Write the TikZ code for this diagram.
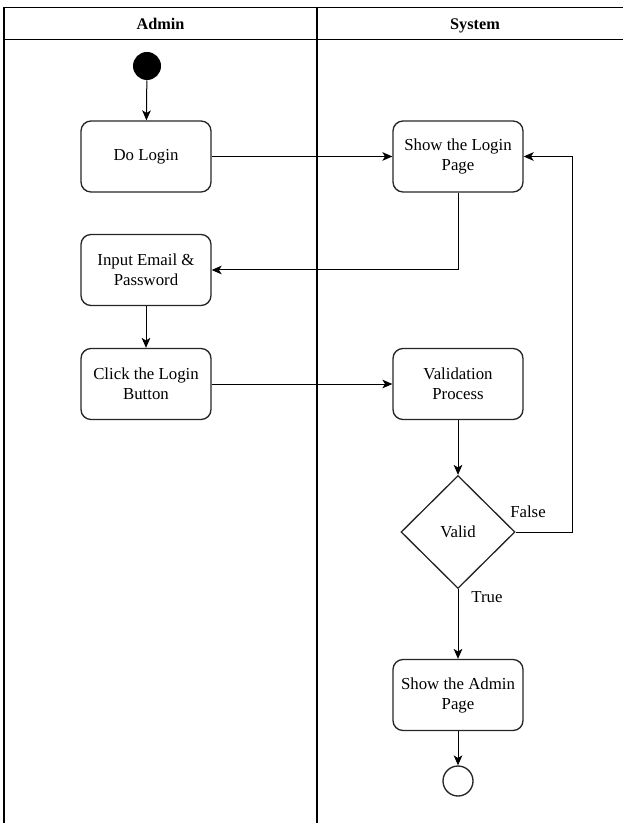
\documentclass[tikz,border=0pt]{standalone}
\usepackage{fontspec}
\setmainfont{Liberation Serif}
\usetikzlibrary{shapes.geometric,arrows.meta}

\tikzset{every picture/.style={line width=0.75pt}}
\tikzset{
  actbox/.style={draw=black!85, line width=1pt, rounded corners=7.5pt, minimum width=97.5pt, minimum height=53.25pt, inner sep=0.75pt, align=center, font=\fontsize{12.6}{15}\selectfont},
  decbox/.style={draw=black!85, line width=1pt, diamond, aspect=1, minimum width=85.5pt, minimum height=84.75pt, inner sep=0pt, font=\fontsize{12.6}{15}\selectfont},
  lanehead/.style={inner sep=0.75pt, anchor=base, font=\fontsize{12.2}{14}\selectfont\bfseries},
  flowlbl/.style={inner sep=0.75pt, font=\fontsize{12.6}{15}\selectfont},
  arr/.style={-{Stealth[length=7.5pt,width=6.5pt,inset=2pt]}},
}

\begin{document}
\begin{tikzpicture}[x=0.75pt,y=0.75pt,yscale=-1,xscale=1]
\clip (0,0) rectangle (623,823);

%Shape: Swimlanes
\draw [line width=1.2pt] (4,7.5) -- (640,7.5) ;
\draw [line width=1.2pt] (4,39.5) -- (640,39.5) ;
\draw [line width=1.2pt] (4,7.5) -- (4,840) ;
\draw [line width=1.2pt] (317,7.5) -- (317,840) ;

% Text Node
\node (adminhead) at (160.5,29.5) [lanehead] {Admin};
% Text Node
\node (systemhead) at (475,29.5) [lanehead] {System};

%Shape: Circle
\node (start) at (147,66) [circle, fill=black, inner sep=0pt, minimum size=21pt] {};
%Shape: Circle
\node (finish) at (458,781) [circle, draw=black!85, line width=1pt, inner sep=0pt, minimum size=22.5pt] {};

%Shape: Rounded Rect
\node (dologin) at (146,156.5) [actbox] {Do Login};
%Shape: Rounded Rect
\node (showlogin) at (458,156.5) [actbox] {Show the Login\\Page};
%Shape: Rounded Rect
\node (inputmail) at (146,270) [actbox] {Input Email \&\\Password};
%Shape: Rounded Rect
\node (clicklogin) at (146,384) [actbox] {Click the Login\\Button};
%Shape: Rounded Rect
\node (validation) at (458,384) [actbox] {Validation\\Process};
%Shape: Diamond
\node (valid) at (458,532) [decbox] {Valid};
%Shape: Rounded Rect
\node (adminpage) at (458,695) [actbox] {Show the Admin\\Page};

%Straight Lines
\draw [arr] (start) -- (dologin) ;
\draw [arr] (dologin) -- (showlogin) ;
\draw [arr] (showlogin.south) |- (inputmail.east) ;
\draw [arr] (inputmail) -- (clicklogin) ;
\draw [arr] (clicklogin) -- (validation) ;
\draw [arr] (validation) -- (valid) ;
\coordinate (falseturn) at (572,532);
\draw [arr] (valid.east) -- (falseturn) |- (showlogin.east) ;
\draw [arr] (valid) -- (adminpage) ;
\draw [arr] (adminpage) -- (finish) ;

% Text Node
\node (falselbl) at (528,512) [flowlbl] {False};
% Text Node
\node (truelbl) at (487,597) [flowlbl] {True};

\end{tikzpicture}
\end{document}
